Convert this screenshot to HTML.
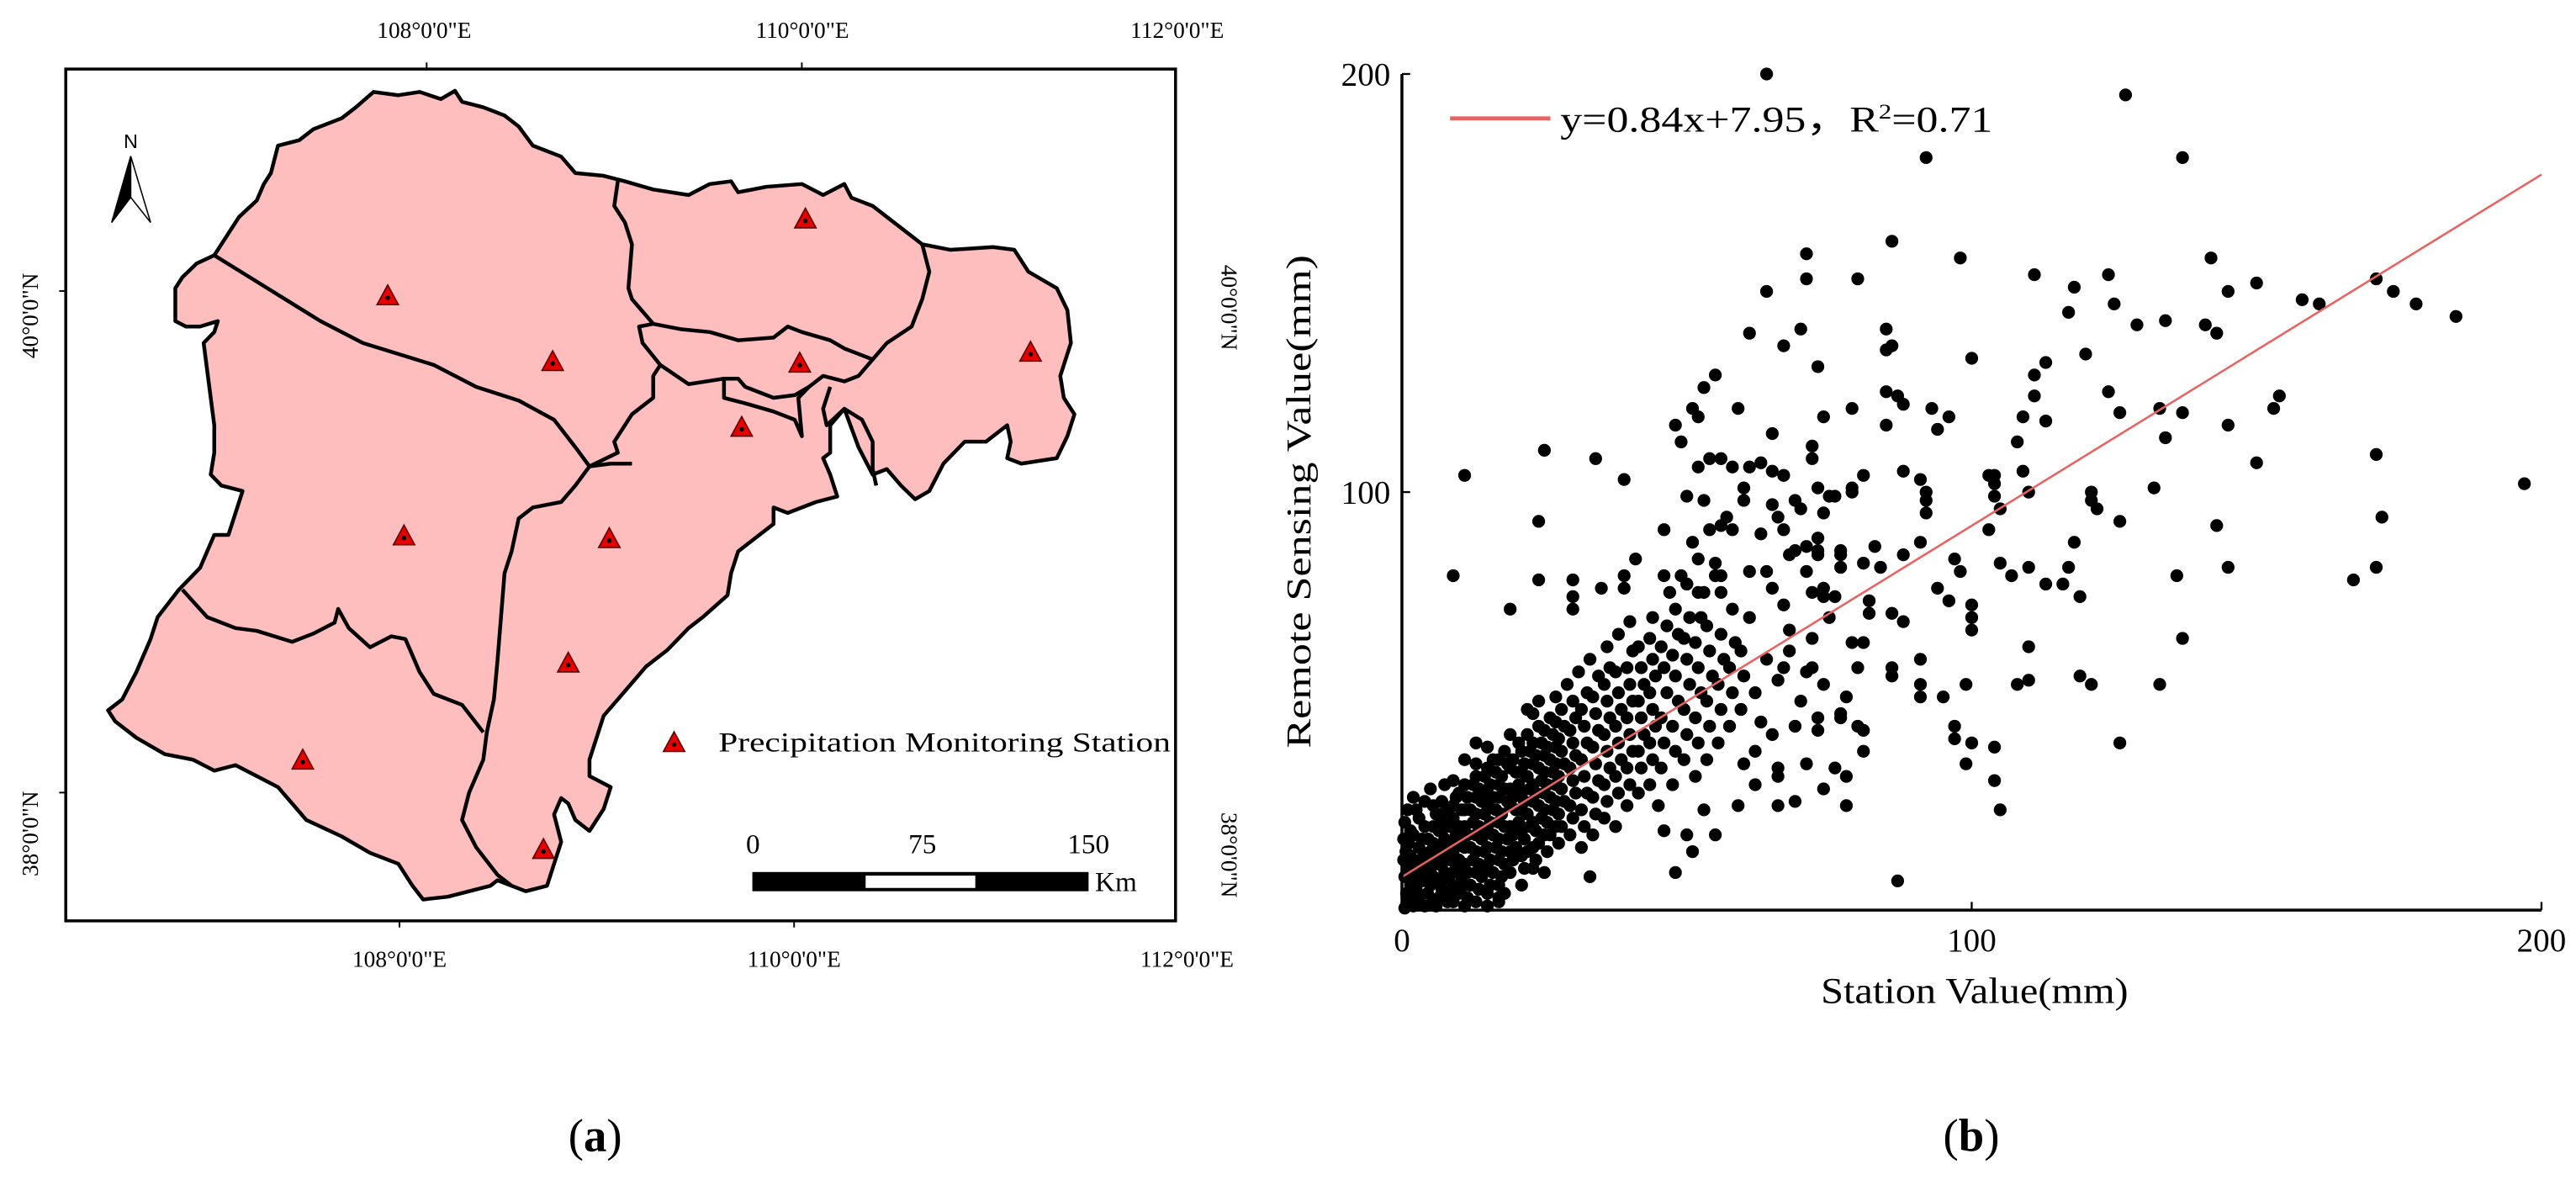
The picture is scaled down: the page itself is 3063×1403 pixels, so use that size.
<!DOCTYPE html>
<html><head><meta charset="utf-8"><style>
html,body{margin:0;padding:0;background:#fff;}
svg{display:block;font-family:"Liberation Serif",serif;}
</style></head><body>
<svg id="fig" width="3063" height="1403" viewBox="0 0 1566.8 717.6" preserveAspectRatio="none" xmlns="http://www.w3.org/2000/svg">
<g id="mapPanel">
  <rect x="40" y="42" width="675" height="518" fill="none" stroke="#000" stroke-width="1.8"/>
  <g stroke="#000" stroke-width="1">
    <line x1="259.5" y1="42" x2="259.5" y2="38"/><line x1="487.7" y1="42" x2="487.7" y2="38"/>
    <line x1="243" y1="560" x2="243" y2="564"/><line x1="483" y1="560" x2="483" y2="564"/>
    <line x1="40" y1="177" x2="36" y2="177"/><line x1="40" y1="482" x2="36" y2="482"/>
  </g>
  <g font-size="14" fill="#000" text-anchor="middle">
    <text x="258" y="23">108°0'0"E</text>
    <text x="488" y="23">110°0'0"E</text>
    <text x="716" y="23">112°0'0"E</text>
    <text x="243" y="588">108°0'0"E</text>
    <text x="483" y="588">110°0'0"E</text>
    <text x="722" y="588">112°0'0"E</text>
  </g>
  <g font-size="14" fill="#000" text-anchor="middle">
    <text transform="translate(23,192) rotate(-90)">40°0'0"N</text>
    <text transform="translate(23,507) rotate(-90)">38°0'0"N</text>
    <text transform="translate(743,187) rotate(90)">40°0'0"N</text>
    <text transform="translate(743,520) rotate(90)">38°0'0"N</text>
  </g>
  <g id="regions" transform="translate(39.9,41.9) scale(0.4306,0.3334)">
    <polygon fill="#ffbebe" stroke="#000" stroke-width="4.5" vector-effect="non-scaling-stroke" stroke-linejoin="round" points="435,42 470,48 500,42 530,55 550,40 560,60 590,70 620,85 640,105 660,140 700,160 720,190 760,195 790,205 830,220 880,230 910,210 940,205 950,225 990,215 1040,210 1070,230 1100,210 1110,235 1140,250 1160,270 1180,290 1210,320 1250,330 1310,325 1340,330 1360,370 1400,400 1415,440 1420,500 1405,560 1410,600 1425,630 1415,670 1400,710 1350,720 1330,710 1335,680 1330,650 1300,680 1270,680 1240,720 1220,770 1200,785 1180,760 1160,730 1140,740 1120,690 1100,620 1080,650 1080,700 1070,710 1080,740 1090,780 1060,790 1040,800 1020,810 1000,800 1000,830 970,860 950,880 940,920 935,960 900,1000 880,1020 850,1060 820,1090 800,1120 780,1150 760,1180 750,1220 740,1260 740,1290 770,1310 760,1350 740,1390 720,1370 710,1340 700,1330 690,1360 700,1410 690,1450 680,1490 650,1500 630,1490 610,1480 600,1490 570,1500 540,1510 505,1515 490,1490 470,1450 430,1430 390,1400 340,1370 320,1340 300,1310 270,1290 240,1270 210,1280 180,1260 140,1250 100,1220 70,1190 60,1170 80,1150 100,1100 120,1040 130,1000 160,950 190,910 200,880 210,850 230,850 240,810 250,770 220,760 205,740 210,700 210,650 205,600 200,550 195,500 210,480 215,460 190,470 170,470 155,460 155,400 165,380 185,355 210,340 230,300 245,270 270,240 280,210 290,190 300,140 330,130 350,110 390,90 410,70"/>
    <g fill="none" stroke="#000" stroke-width="4.5" stroke-linejoin="round">
      <polyline vector-effect="non-scaling-stroke" points="210,340 260,380 310,420 360,460 420,500 470,520 520,540 580,580 640,605 690,640 720,690 740,725 770,720 800,720"/>
      <polyline vector-effect="non-scaling-stroke" points="740,725 780,700 775,680 800,630 830,600 830,560 840,540 815,500 810,470 830,465 800,420 795,400 800,320 790,280 775,250 780,205"/>
      <polyline vector-effect="non-scaling-stroke" points="830,465 870,475 910,480 950,495 1000,490 1020,470 1040,480 1080,495 1100,510 1140,530 1160,500 1195,470 1210,420 1220,370 1210,320"/>
      <polyline vector-effect="non-scaling-stroke" points="840,540 880,575 930,565 950,565 960,580 1000,600 1030,595 1050,580 1070,560 1100,570 1120,560 1140,530"/>
      <polyline vector-effect="non-scaling-stroke" points="930,565 930,600 960,610 1000,625 1030,640 1040,670 1035,600 1050,580"/>
      <polyline vector-effect="non-scaling-stroke" points="1080,580 1070,620 1075,650 1100,620 1125,640 1140,680 1140,730 1145,760"/>
      <polyline vector-effect="non-scaling-stroke" points="740,725 720,760 700,790 660,800 640,820 630,880 620,920 615,1000 610,1080 605,1150 595,1210 590,1260 570,1320 560,1370 580,1420 610,1470 630,1490"/>
      <polyline vector-effect="non-scaling-stroke" points="165,950 200,1000 240,1020 270,1025 320,1045 350,1030 380,1010 385,985 400,1020 430,1055 460,1035 480,1040 500,1100 520,1140 560,1160 590,1210"/>
    </g>
  </g>
  <g id="stations"></g>
  <g>
    <text x="79.5" y="90" font-family="Liberation Sans, sans-serif" font-size="12" text-anchor="middle">N</text>
    <polygon points="79.5,95 67.9,135.3 79.5,120" fill="#000" stroke="#000" stroke-width="0.8"/>
    <polygon points="79.5,95 91.6,135.3 79.5,120" fill="#fff" stroke="#000" stroke-width="0.8"/>
  </g>
  <g>
    <g id="legendTri"></g>
    <text x="437" y="457" font-size="17" textLength="275" lengthAdjust="spacingAndGlyphs">Precipitation Monitoring Station</text>
  </g>
  <g>
    <rect x="457.6" y="530.3" width="204.5" height="11.7" fill="#000"/>
    <rect x="526.5" y="532.5" width="66.7" height="7.5" fill="#fff"/>
    <g font-size="17" text-anchor="middle">
      <text x="458" y="519">0</text>
      <text x="561" y="519">75</text>
      <text x="662" y="519">150</text>
    </g>
    <text x="666" y="542" font-size="17">Km</text>
  </g>
  <text x="362" y="700" font-size="28" text-anchor="middle">(<tspan font-weight="bold">a</tspan>)</text>
</g>

<g id="chart">
  <g id="dots"></g>
  <line id="fitLine" stroke="#e8625f" stroke-width="1.3"/>
  <g id="axes"></g>
  <g>
    <line x1="882" y1="72" x2="943" y2="72" stroke="#e8625f" stroke-width="2.4"/>
    <text x="949" y="80" font-size="22" textLength="263" lengthAdjust="spacingAndGlyphs">y=0.84x+7.95，R<tspan font-size="13" dy="-8">2</tspan><tspan dy="8">=0.71</tspan></text>
  </g>
  <text x="1201" y="610" font-size="22" text-anchor="middle" textLength="187" lengthAdjust="spacingAndGlyphs">Station Value(mm)</text>
  <text transform="translate(797,305) rotate(-90)" font-size="21" text-anchor="middle" textLength="300" lengthAdjust="spacingAndGlyphs">Remote Sensing Value(mm)</text>
  <text x="1199" y="700" font-size="28" text-anchor="middle">(<tspan font-weight="bold">b</tspan>)</text>
</g>
</svg>
<script>
const stationPts = [[455,415],[688,535],[1045,275],[1037,538],[1363,518],[955,655],[478,853],[768,858],[710,1085],[335,1262],[675,1425]];
const xTicks = [0,100,200];
const yTicks = [100,200];
const fitSlope = 0.84;
const fitIntercept = 7.95;
const points = [
[64,200],[127,195],[92,180],[137,180],[86,160],[71,157],[98,156],[142,156],[71,151],[80,151],[111,152],[124,152],[150,150],[171,151],[118,149],[145,148],[174,148],[178,145],[158,146],[161,145],[185,142],[125,145],[64,148],[117,143],[129,140],[134,141],[141,140],[143,138],[61,138],[70,139],[85,139],[86,135],[85,134],[67,135],[73,130],[100,132],[120,133],[113,131],[111,128],[55,128],[53,125],[85,124],[87,123],[88,121],[111,123],[124,124],[154,123],[153,120],[59,120],[79,120],[51,120],[52,118],[74,118],[93,120],[96,118],[94,115],[85,116],[109,118],[113,117],[126,119],[133,120],[137,119],[134,113],[145,116],[48,116],[49,112],[65,114],[108,112],[72,111],[72,108],[25,110],[34,108],[54,108],[56,108],[150,107],[171,109],[11,104],[39,103],[52,106],[58,106],[61,106],[63,107],[65,105],[67,104],[81,104],[88,105],[91,103],[92,100],[92,98],[92,95],[103,104],[104,104],[104,102],[104,99],[105,96],[109,105],[110,100],[132,101],[197,102],[172,94],[143,92],[121,100],[121,98],[122,96],[126,93],[103,91],[50,99],[53,98],[60,101],[60,98],[65,97],[66,94],[69,98],[70,96],[73,101],[74,95],[75,99],[76,99],[79,100],[79,101],[57,94],[56,92],[54,91],[58,91],[63,90],[67,91],[73,89],[24,93],[46,91],[51,88],[52,84],[55,83],[41,84],[9,80],[19,72],[24,79],[30,79],[30,75],[30,72],[35,77],[39,80],[39,77],[46,80],[49,80],[50,78],[53,76],[56,80],[61,81],[64,81],[65,77],[68,85],[69,86],[71,87],[73,86],[73,85],[71,81],[72,76],[74,77],[74,75],[76,75],[77,85],[77,82],[77,86],[81,83],[83,87],[84,82],[88,85],[91,88],[97,84],[98,81],[94,77],[96,74],[100,73],[100,70],[100,67],[107,80],[110,82],[113,78],[116,78],[117,82],[118,88],[119,75],[105,83],[136,80],[145,82],[167,79],[171,82],[137,65],[82,74],[82,71],[86,71],[88,69],[67,73],[75,70],[72,65],[68,67],[79,64],[81,64],[110,63],[91,60],[86,58],[86,56],[80,58],[71,57],[74,54],[67,58],[91,54],[91,51],[95,51],[99,54],[108,54],[110,55],[119,56],[121,54],[133,54],[126,40],[97,44],[97,41],[100,40],[104,39],[99,35],[104,31],[105,24],[78,51],[77,47],[77,46],[80,44],[81,43],[81,38],[76,34],[78,32],[73,46],[73,43],[69,44],[71,35],[66,34],[66,32],[74,29],[78,25],[69,26],[66,25],[62,30],[59,25],[55,18],[51,14],[48,9],[87,7],[33,8],[23,10],[17,3],[46,19],[50,18],[53,24],
[0.5,0.5],[1,2],[0.8,4],[1.5,6],[0.5,8],[1,10],[2,12],[0.7,14],[1.2,16],[2,1],[3,3],[2.5,5],[3.5,7],[3,9],[2.5,11],[3.8,13],[3,15],[2,18],[4,1],[4.5,4],[5,6],[4.2,8],[5,10],[4.5,12],[5,14],[4.6,17],[4,20],[3,22],[1.5,19],[0.5,21],[2.5,24],[0.3,12],[0.3,17],[1,24],[2,27],[4,26],[5,29],
[6,1],[6.5,3],[7,5],[6,7],[7.5,9],[6.5,11],[7,13],[6,15],[7.5,17],[6.5,19],[7,21],[6,23],[8,2],[8.5,4],[9,6],[8,8],[9.5,10],[8.5,12],[9,14],[8,16],[9.5,18],[8.5,20],[9,22],[8,24],[7,26],[9.5,27],[10,4],[10.5,8],[10,12],[10.5,16],[10,20],[10.5,24],[10,28],[9,31],[7.5,30],
[11.5,3],[12,6],[11.5,9],[12.5,12],[12,15],[11.5,18],[12.5,21],[12,24],[11.5,27],[12.5,30],[13.5,5],[14,8],[13.5,11],[14.5,14],[14,17],[13.5,20],[14.5,23],[14,26],[13.5,29],[14.5,32],[13,35],[15.5,6],[16,9],[15.5,12],[16.5,15],[16,18],[15.5,21],[16.5,24],[16,27],[15.5,30],[16.5,33],[16,36],[17.5,8],[18,11],[17.5,14],[18.5,17],[18,20],[17.5,23],[18.5,26],[18,29],[17.5,32],[18.5,35],[18,38],[19.5,12],[20,15],[19.5,18],[20.5,21],[20,24],[19.5,27],[20.5,30],[20,33],[19.5,36],[20.5,40],[19,42],[17,2],[15,1],[18,4],[11,36],[15,39],[13,40],
[21.5,10],[22,14],[21.5,17],[22.5,20],[22,23],[21.5,26],[22.5,29],[22,32],[21.5,35],[22.5,38],[22,42],[23.5,12],[24,16],[23.5,19],[24.5,22],[24,25],[23.5,28],[24.5,31],[24,34],[23.5,37],[24.5,40],[24,44],[23,47],[25.5,14],[26,18],[25.5,21],[26.5,24],[26,27],[25.5,30],[26.5,33],[26,36],[25.5,39],[26.5,42],[26,46],[27.5,16],[28,20],[27.5,23],[28.5,26],[28,29],[27.5,32],[28.5,35],[28,38],[27.5,41],[28.5,44],[28,48],[27,51],[29.5,18],[30,22],[29.5,25],[30.5,28],[30,31],[29.5,34],[30.5,37],[30,40],[29.5,43],[30.5,46],[30,50],[21,6],[25,9],[24,50],[29,54],[22,48],
[31.5,15],[32,20],[31.5,24],[32.5,28],[32,32],[31.5,36],[32.5,40],[32,44],[31.5,48],[32.5,52],[33.5,18],[34,23],[33.5,27],[34.5,31],[34,35],[33.5,39],[34.5,43],[34,47],[33.5,51],[34.5,56],[35.5,22],[36,26],[35.5,30],[36.5,34],[36,38],[35.5,42],[36.5,46],[36,50],[35.5,54],[36.5,58],[37.5,20],[38,28],[37.5,32],[38.5,36],[38,40],[37.5,44],[38.5,48],[38,52],[37.5,57],[39.5,25],[40,30],[39.5,34],[40.5,38],[40,42],[39.5,46],[40.5,50],[40,54],[39.5,58],[40.5,62],[41.5,28],[42,34],[41.5,38],[42.5,42],[42,46],[41.5,50],[42.5,54],[42,58],[41.5,63],[43.5,30],[44,36],[43.5,40],[44.5,44],[44,48],[43.5,52],[44.5,56],[44,60],[43.5,65],[45,25],[33,60],[36,63],[38,66],[40,69],[31,57],
[45.5,34],[46,40],[45.5,46],[46.5,52],[46,58],[45.5,63],[46.5,68],[47.5,30],[48,38],[47.5,44],[48.5,50],[48,56],[47.5,61],[48.5,66],[48,72],[49.5,36],[50,42],[49.5,48],[50.5,54],[50,60],[49.5,65],[50.5,70],[51.5,32],[52,40],[51.5,46],[52.5,52],[52,58],[51.5,64],[52.5,70],[53.5,36],[54,44],[53.5,50],[54.5,56],[54,62],[53.5,68],[55.5,40],[56,48],[55.5,54],[56.5,60],[56,66],[57.5,44],[58,52],[57.5,58],[58.5,64],[59.5,48],[60,56],[59.5,62],[61,70],[62,52],[63,45],[64,60],[66,55],[68,62],[70,50],[72,58],[62,38],[65,42],[60,35],[58,72],[56,76],[55,80],[52,76],[50,78],[47,76],[44,70],
[1.8,3],[2.8,7],[1.8,9],[3.5,11],[1.5,13],[3.5,17],[5.5,2],[5.5,8],[5.5,12],[5.5,16],[5.5,20],[5.5,25],[7,3],[7,7],[7,11],[7,15],[7,19],[7,23],[9,2],[9,9],[9,12],[9,16],[9,20],[9,25],[11,1],[11,6],[11,11],[11,15],[11,20],[11,24],[11,30],[13,2],[13,9],[13,14],[13,18],[13,23],[13,27],[13,32],[15,4],[15,10],[15,15],[15,19],[15,25],[15,28],[15,34],[17,6],[17,12],[17,17],[17,21],[17,27],[17,30],[17,36],[19,9],[19,14],[19,20],[19,25],[19,29],[19,34],[21,13],[21,19],[21,24],[21,28],[21,33],[21,38],[23,15],[23,21],[23,26],[23,30],[23,35],[23,40],[25,18],[25,24],[25,28],[25,33],[25,37],[25,43],[27,20],[27,26],[27,30],[27,35],[27,39],[27,45]
];

const NS='http://www.w3.org/2000/svg';
const X0=852.7, X1=1545.8, Y0=553.5, Y1=45;
function xScale(v){return X0+(X1-X0)*v/200;}
function yScale(v){return Y0-(Y0-Y1)*v/200;}
function mk(tag,attrs,parent){const e=document.createElementNS(NS,tag);for(const k in attrs)e.setAttribute(k,attrs[k]);parent.appendChild(e);return e;}

function tri(cx,cy,parent){
  const g=mk('g',{},parent);
  
  
  mk('polygon',{points:`${cx},${cy-7} ${cx-6.5},${cy+5} ${cx+6.5},${cy+5}`,fill:'#e60000',stroke:'#5a0000','stroke-width':0.8},g);
  mk('circle',{cx:cx,cy:cy+0.8,r:1.4,fill:'#000'},g);
}
const st=document.getElementById('stations');
stationPts.forEach(p=>tri(39.9+p[0]*0.4306,41.9+p[1]*0.3334,st));
tri(410,452,document.getElementById('legendTri'));

const dots=document.getElementById('dots');
points.forEach(p=>{
  const c=mk('circle',{cx:xScale(p[0]),cy:yScale(p[1]),r:3.9,fill:'#000'},dots);
  
  
});

const fl=document.getElementById('fitLine');
fl.setAttribute('x1',xScale(0));fl.setAttribute('y1',yScale(fitIntercept));
fl.setAttribute('x2',xScale(200));fl.setAttribute('y2',yScale(fitSlope*200+fitIntercept));

const ax=document.getElementById('axes');
const xl=mk('line',{x1:X0,y1:Y0,x2:X1,y2:Y0,stroke:'#000','stroke-width':1.8},ax);


const yl=mk('line',{x1:X0,y1:Y0,x2:X0,y2:Y1,stroke:'#000','stroke-width':1.8},ax);


xTicks.forEach(t=>{
  const x=xScale(t);
  if(t>0){const tk=mk('line',{x1:x,y1:Y0,x2:x,y2:Y0-5,stroke:'#000','stroke-width':1.2},ax);
  
  }
  const tx=mk('text',{x:x,y:Y0+25,'font-size':20,'text-anchor':'middle'},ax);
  
  
  tx.textContent=t;
});
yTicks.forEach(t=>{
  const y=yScale(t);
  const tk=mk('line',{x1:X0,y1:y,x2:X0+5,y2:y,stroke:'#000','stroke-width':1.2},ax);
  
  
  const tx=mk('text',{x:X0-7,y:y+7,'font-size':20,'text-anchor':'end'},ax);
  
  
  tx.textContent=t;
});
</script>
</body></html>
